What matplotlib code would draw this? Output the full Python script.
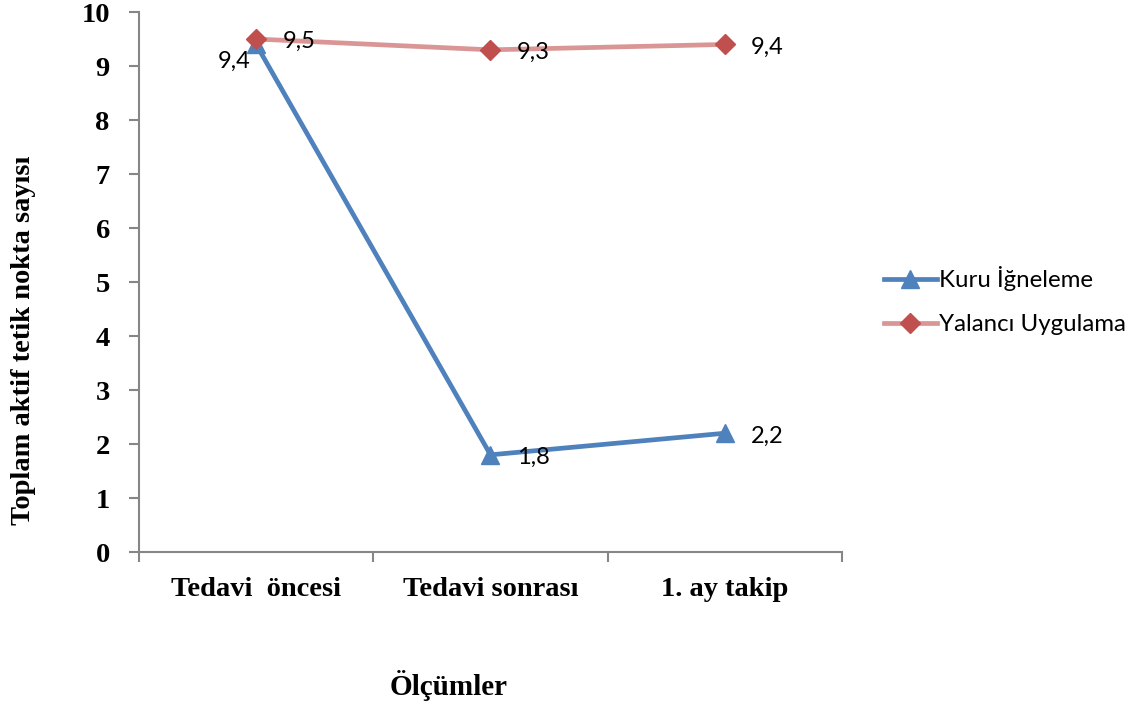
import matplotlib.pyplot as plt

kategoriler = ['Tedavi  öncesi', 'Tedavi sonrası', '1. ay takip']
kuru_igneleme = [9.4, 1.8, 2.2]
yalanci_uygulama = [9.5, 9.3, 9.4]

fig = plt.figure(figsize=(11.42, 7.08), dpi=100)
ax = fig.add_axes([0.1217, 0.2203, 0.6156, 0.7627])

x = list(range(len(kategoriler)))
ax.plot(x, kuru_igneleme, color='#4F81BD', lw=3.4, marker='^', ms=13,
        mfc='#4F81BD', mec='#4F81BD', label='Kuru İğneleme')
ax.plot(x, yalanci_uygulama, color='#D99694', lw=3.4, marker='D', ms=10,
        mfc='#C0504D', mec='#C0504D', label='Yalancı Uygulama')

etiket_font = dict(family='Lato', fontsize=17, color='black', va='center')
# veri etiketleri (offset: punto cinsinden)
kuru_ofset = [(-4, -12), (19, -1.5), (19, -2.5)]
yalanci_ofset = [(19, -1.5), (19, -2), (19, -2)]
for i, v in enumerate(kuru_igneleme):
    txt = f'{v:.1f}'.replace('.', ',')
    ha = 'right' if i == 0 else 'left'
    ax.annotate(txt, (i, v), xytext=kuru_ofset[i], textcoords='offset points', ha=ha, **etiket_font)
for i, v in enumerate(yalanci_uygulama):
    txt = f'{v:.1f}'.replace('.', ',')
    ax.annotate(txt, (i, v), xytext=yalanci_ofset[i], textcoords='offset points', ha='left', **etiket_font)

ax.set_xlim(-0.5, 2.5)
ax.set_ylim(0, 10)
ax.set_yticks(range(0, 11))
ax.set_xticks([-0.5, 0.5, 1.5, 2.5])
ax.set_xticklabels([])
ax.set_xticks(x, minor=True)
ax.set_xticklabels(kategoriler, minor=True, family='Liberation Serif',
                   fontweight='bold', fontsize=20.5)
ax.tick_params(axis='x', which='minor', length=0, pad=18)
ax.tick_params(axis='x', which='major', length=7, color='#868686', width=1.5)
ax.tick_params(axis='y', length=7, color='#868686', width=1.5, pad=14)
for lbl in ax.get_yticklabels():
    lbl.set_family('Liberation Serif')
    lbl.set_fontweight('bold')
    lbl.set_fontsize(20.5)

for s in ['top', 'right']:
    ax.spines[s].set_visible(False)
for s in ['left', 'bottom']:
    ax.spines[s].set_color('#868686')
    ax.spines[s].set_linewidth(1.5)

fig.text(0.021, 0.52, 'Toplam aktif tetik nokta sayısı', family='Liberation Serif',
         fontweight='bold', fontsize=20.5, rotation=90, ha='center', va='center')
fig.text(0.393, 0.032, 'Ölçümler', family='Liberation Serif', fontweight='bold',
         fontsize=21, ha='center', va='center')

ax.legend(loc='center left', bbox_to_anchor=(0.755, 0.575), bbox_transform=fig.transFigure,
          frameon=False, prop={'family': 'Lato', 'size': 17.3},
          handlelength=2.2, handletextpad=0.08, labelspacing=0.95)

fig.savefig('out.png', dpi=100)
